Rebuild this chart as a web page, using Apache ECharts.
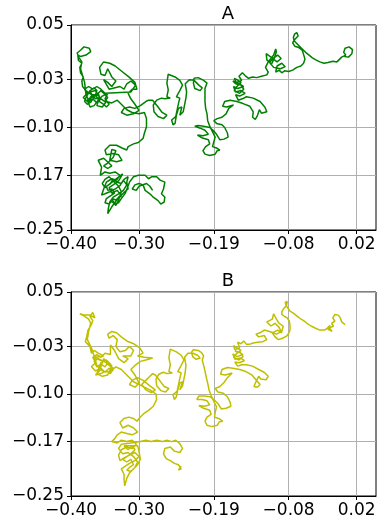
<!DOCTYPE html>
<html lang="en">
<head>
<meta charset="UTF-8">
<title>walks</title>
<script src="https://cdn.jsdelivr.net/npm/echarts@6/dist/echarts.min.js"></script>
<style>
  html, body { margin: 0; padding: 0; background: #fff; }
  #main { width: 385px; height: 519px; }
</style>
</head>
<body>
<div id="main"></div>
<script>
var titles = ['A', 'B'];
var xTicks = [-0.40, -0.30, -0.19, -0.08, 0.02];
var xTickLabels = ['\u22120.40', '\u22120.30', '\u22120.19', '\u22120.08', '0.02'];
var yTicks = [0.05, -0.03, -0.10, -0.17, -0.25];
var yTickLabels = ['0.05', '\u22120.03', '\u22120.10', '\u22120.17', '\u22120.25'];

// path A
var walkA = [
  [0.002,0.004],[0.008,0.003],[0.013,0.008],[0.014,0.014],[0.009,0.018],[0.003,0.016],[0.001,0.010],[0.004,0.006],[-0.002,0.003],[-0.006,-0.001],[-0.009,-0.004],
  [-0.015,-0.003],[-0.022,-0.005],[-0.028,-0.006],[-0.034,-0.004],[-0.040,-0.001],[-0.045,0.002],[-0.050,0.006],[-0.055,0.010],[-0.060,0.015],[-0.064,0.019],[-0.068,0.023],[-0.072,0.027],[-0.073,0.032],[-0.071,0.037],[-0.068,0.039],[-0.066,0.034],[-0.070,0.030],[-0.074,0.024],[-0.071,0.019],[-0.065,0.017],[-0.060,0.013],[-0.058,0.007],[-0.056,0.000],[-0.058,-0.006],[-0.062,-0.010],[-0.068,-0.012],[-0.074,-0.016],[-0.080,-0.018],[-0.086,-0.017],[-0.090,-0.020],
  [-0.094,-0.016],[-0.099,-0.019],[-0.097,-0.010],[-0.090,-0.006],[-0.085,-0.011],[-0.092,-0.014],[-0.102,-0.012],[-0.108,-0.005],[-0.103,0.001],[-0.096,0.006],[-0.091,0.001],[-0.097,-0.004],[-0.106,0.003],[-0.113,0.008],[-0.112,-0.001],[-0.105,-0.007],[-0.100,0.004],[-0.098,0.011],[-0.099,0.015],[-0.102,0.006],[-0.110,-0.004],[-0.114,-0.012],[-0.110,-0.019],[-0.112,-0.023],
  [-0.120,-0.025],[-0.127,-0.027],[-0.133,-0.026],[-0.139,-0.028],
  [-0.144,-0.024],[-0.148,-0.020],[-0.153,-0.025],[-0.149,-0.031],[-0.157,-0.034],[-0.160,-0.028],[-0.156,-0.030],[-0.150,-0.034],[-0.156,-0.040],[-0.160,-0.046],[-0.152,-0.050],[-0.146,-0.044],[-0.150,-0.038],[-0.158,-0.036],[-0.162,-0.032],[-0.152,-0.036],[-0.146,-0.040],[-0.155,-0.043],[-0.161,-0.040],[-0.158,-0.048],[-0.150,-0.046],[-0.144,-0.050],[-0.152,-0.054],[-0.158,-0.052],[-0.154,-0.060],[-0.148,-0.058],
  [-0.142,-0.055],[-0.132,-0.057],[-0.122,-0.062],[-0.115,-0.070],[-0.112,-0.077],[-0.120,-0.079],[-0.123,-0.074],[-0.126,-0.083],[-0.129,-0.088],[-0.133,-0.085],[-0.132,-0.077],[-0.137,-0.069],[-0.147,-0.065],[-0.156,-0.062],[-0.166,-0.060],[-0.174,-0.062],[-0.177,-0.069],[-0.171,-0.070],[-0.161,-0.067],
  [-0.168,-0.072],[-0.172,-0.080],[-0.178,-0.085],[-0.185,-0.087],[-0.190,-0.090],[-0.186,-0.094],[-0.178,-0.096],[-0.174,-0.100],[-0.170,-0.108],[-0.169,-0.114],[-0.175,-0.117],[-0.181,-0.118],[-0.186,-0.110],[-0.191,-0.104],[-0.196,-0.100],[-0.205,-0.098],[-0.213,-0.097],[-0.218,-0.098],[-0.210,-0.101],[-0.203,-0.104],[-0.198,-0.110],[-0.206,-0.112],[-0.214,-0.111],[-0.208,-0.115],[-0.198,-0.118],[-0.196,-0.124],[-0.202,-0.128],[-0.206,-0.134],[-0.203,-0.139],[-0.196,-0.141],[-0.188,-0.139],[-0.185,-0.134],[-0.181,-0.133],[-0.186,-0.130],[-0.192,-0.128],[-0.190,-0.121],[-0.188,-0.114],[-0.192,-0.106],[-0.196,-0.098],[-0.199,-0.090],[-0.200,-0.080],[-0.202,-0.072],[-0.203,-0.062],[-0.203,-0.052],
  [-0.203,-0.043],[-0.200,-0.035],[-0.205,-0.031],[-0.213,-0.027],[-0.219,-0.028],[-0.220,-0.035],[-0.218,-0.043],[-0.210,-0.046],[-0.207,-0.042],[-0.212,-0.038],[-0.219,-0.031],[-0.226,-0.030],[-0.232,-0.036],
  [-0.230,-0.048],[-0.231,-0.057],[-0.233,-0.067],[-0.235,-0.077],[-0.240,-0.082],[-0.237,-0.070],[-0.242,-0.072],[-0.245,-0.082],[-0.247,-0.094],[-0.250,-0.096],[-0.252,-0.089],[-0.246,-0.084],[-0.242,-0.065],[-0.240,-0.057],[-0.245,-0.055],[-0.240,-0.046],[-0.236,-0.038],[-0.240,-0.031],[-0.247,-0.026],[-0.257,-0.022],[-0.258,-0.028],[-0.259,-0.035],[-0.257,-0.045],[-0.259,-0.055],[-0.254,-0.057],[-0.262,-0.058],[-0.267,-0.057],[-0.274,-0.060],[-0.279,-0.067],[-0.278,-0.077],[-0.272,-0.084],[-0.264,-0.087],[-0.259,-0.082],[-0.266,-0.078],[-0.272,-0.070],[-0.280,-0.060],[-0.286,-0.060],
  [-0.290,-0.062],[-0.298,-0.068],[-0.306,-0.072],[-0.314,-0.070],[-0.322,-0.072],[-0.326,-0.078],[-0.318,-0.082],[-0.308,-0.080],[-0.300,-0.075],[-0.306,-0.066],[-0.312,-0.058],[-0.316,-0.050],[-0.310,-0.044],[-0.303,-0.044],[-0.306,-0.034],[-0.315,-0.026],[-0.325,-0.018],[-0.335,-0.010],[-0.343,-0.006],[-0.352,-0.004],[-0.358,-0.012],[-0.356,-0.022],[-0.350,-0.024],[-0.346,-0.014],[-0.340,-0.026],[-0.334,-0.032],[-0.340,-0.040],[-0.346,-0.034],[-0.352,-0.030],[-0.344,-0.044],[-0.328,-0.040],[-0.322,-0.044],[-0.318,-0.036],[-0.312,-0.032],[-0.305,-0.038],[-0.312,-0.048],[-0.350,-0.050],[-0.356,-0.044],[-0.362,-0.040],[-0.368,-0.044],[-0.374,-0.040],[-0.380,-0.044],[-0.376,-0.050],[-0.382,-0.056],[-0.376,-0.062],[-0.368,-0.058],[-0.362,-0.064],[-0.356,-0.058],[-0.350,-0.062],[-0.346,-0.056],[-0.352,-0.050],
  [-0.356,-0.046],[-0.360,-0.050],[-0.358,-0.056],[-0.364,-0.058],[-0.368,-0.052],[-0.372,-0.056],[-0.370,-0.062],[-0.376,-0.066],[-0.380,-0.062],[-0.378,-0.056],[-0.372,-0.046],[-0.366,-0.042],[-0.362,-0.046],[-0.364,-0.052],[-0.358,-0.062],[-0.352,-0.066],[-0.348,-0.070],[-0.344,-0.066],[-0.350,-0.058],[-0.346,-0.050],[-0.354,-0.054],[-0.360,-0.060],[-0.366,-0.068],[-0.372,-0.070],[-0.376,-0.060],[-0.370,-0.056],
  [-0.360,-0.052],[-0.370,-0.052],[-0.378,-0.046],[-0.383,-0.040],[-0.384,-0.032],[-0.382,-0.026],[-0.386,-0.020],[-0.387,-0.012],[-0.384,-0.006],[-0.389,-0.002],[-0.390,0.006],[-0.386,0.004],[-0.378,0.006],[-0.371,0.011],[-0.373,0.016],[-0.381,0.018],[-0.386,0.013],[-0.391,0.009],[-0.388,0.002],[-0.384,-0.004],[-0.386,-0.014],[-0.383,-0.024],[-0.380,-0.034],[-0.378,-0.052],[-0.372,-0.064],[-0.366,-0.056],[-0.372,-0.048],[-0.364,-0.046],[-0.358,-0.056],[-0.362,-0.068],[-0.354,-0.070],[-0.348,-0.062],[-0.340,-0.064],[-0.332,-0.060],[-0.326,-0.066],[-0.318,-0.074],[-0.310,-0.078],[-0.300,-0.080],[-0.292,-0.078],
  [-0.289,-0.087],[-0.289,-0.099],[-0.292,-0.108],[-0.294,-0.116],[-0.301,-0.122],[-0.308,-0.124],[-0.316,-0.128],[-0.318,-0.133],
  [-0.325,-0.130],[-0.333,-0.126],[-0.343,-0.126],[-0.350,-0.133],[-0.348,-0.140],[-0.338,-0.138],[-0.330,-0.140],[-0.325,-0.148],[-0.333,-0.150],[-0.343,-0.148],[-0.340,-0.132],[-0.334,-0.134],[-0.338,-0.144],[-0.346,-0.152],[-0.352,-0.156],[-0.346,-0.160],[-0.340,-0.156],[-0.352,-0.145],[-0.360,-0.148],[-0.355,-0.158],[-0.357,-0.170],[-0.350,-0.165],[-0.343,-0.167],[-0.335,-0.165],[-0.328,-0.170],[-0.333,-0.177],[-0.340,-0.175],[-0.348,-0.180],[-0.352,-0.190],[-0.355,-0.199],[-0.350,-0.197],[-0.343,-0.194],[-0.335,-0.190],[-0.328,-0.185],[-0.323,-0.177],[-0.318,-0.184],[-0.323,-0.192],[-0.330,-0.197],[-0.338,-0.202],[-0.343,-0.209],[-0.345,-0.218],[-0.346,-0.226],[-0.340,-0.216],[-0.335,-0.209],[-0.330,-0.202],[-0.325,-0.198],[-0.321,-0.194],[-0.316,-0.190],[-0.318,-0.180],[-0.316,-0.172],
  [-0.322,-0.176],[-0.326,-0.182],[-0.332,-0.180],[-0.338,-0.176],[-0.342,-0.182],[-0.348,-0.186],[-0.346,-0.192],[-0.340,-0.190],[-0.336,-0.196],[-0.342,-0.200],[-0.348,-0.204],[-0.350,-0.210],[-0.344,-0.212],[-0.340,-0.208],[-0.334,-0.214],[-0.330,-0.206],[-0.326,-0.194],[-0.330,-0.186],[-0.336,-0.180],[-0.344,-0.172],[-0.350,-0.176],[-0.354,-0.182],[-0.350,-0.188],
  [-0.324,-0.168],[-0.330,-0.178],[-0.338,-0.184],[-0.344,-0.188],[-0.340,-0.196],[-0.332,-0.192],[-0.326,-0.200],[-0.334,-0.206],[-0.340,-0.204],[-0.336,-0.212],[-0.330,-0.210],[-0.326,-0.204],[-0.320,-0.196],[-0.314,-0.180],[-0.308,-0.172],[-0.301,-0.170],[-0.291,-0.170],[-0.286,-0.175],[-0.281,-0.172],[-0.274,-0.172],[-0.269,-0.177],[-0.262,-0.180],[-0.264,-0.190],[-0.267,-0.197],[-0.262,-0.202],[-0.263,-0.209],[-0.268,-0.212],[-0.272,-0.207],[-0.279,-0.202],[-0.284,-0.197],[-0.291,-0.192],[-0.294,-0.184],[-0.300,-0.182],[-0.306,-0.184],[-0.310,-0.190],[-0.304,-0.192],[-0.300,-0.186],[-0.289,-0.182],[-0.284,-0.186],[-0.280,-0.192]
];

// path B
var walkB = [
  [0.003,0.002],[-0.002,0.006],[-0.004,0.012],[-0.007,0.016],[-0.012,0.017],[-0.015,0.012],[-0.012,0.007],[-0.017,0.004],[-0.014,0.000],[-0.020,-0.003],[-0.016,-0.008],[-0.022,-0.005],[-0.019,0.001],[-0.024,-0.004],
  [-0.027,-0.006],[-0.034,-0.006],[-0.041,-0.003],[-0.047,0.000],[-0.053,0.004],[-0.058,0.008],[-0.063,0.011],[-0.068,0.015],[-0.073,0.019],[-0.078,0.022],[-0.081,0.026],[-0.084,0.031],[-0.085,0.035],[-0.082,0.036],[-0.083,0.030],[-0.087,0.026],[-0.090,0.021],[-0.090,0.017],[-0.086,0.014],[-0.082,0.012],[-0.079,0.007],[-0.078,0.001],[-0.078,-0.006],[-0.080,-0.011],[-0.083,-0.015],[-0.089,-0.018],[-0.095,-0.020],
  [-0.100,-0.016],[-0.104,-0.010],[-0.096,-0.006],[-0.090,-0.010],[-0.094,-0.002],[-0.100,0.004],[-0.106,0.000],[-0.112,0.006],[-0.104,0.010],[-0.102,0.018],[-0.098,0.010],[-0.094,0.004],[-0.088,0.000],[-0.090,-0.008],[-0.098,-0.012],[-0.108,-0.008],[-0.116,-0.006],[-0.122,-0.010],[-0.128,-0.012],[-0.124,-0.016],[-0.116,-0.014],[-0.112,-0.020],[-0.118,-0.023],[-0.126,-0.024],
  [-0.132,-0.025],[-0.138,-0.027],[-0.142,-0.027],
  [-0.146,-0.022],[-0.150,-0.026],[-0.155,-0.024],[-0.152,-0.032],[-0.159,-0.035],[-0.161,-0.029],[-0.156,-0.032],[-0.150,-0.036],[-0.157,-0.041],[-0.161,-0.046],[-0.153,-0.050],[-0.147,-0.045],[-0.151,-0.039],[-0.159,-0.037],[-0.154,-0.038],[-0.147,-0.042],[-0.156,-0.045],[-0.162,-0.041],[-0.159,-0.049],[-0.151,-0.047],[-0.145,-0.051],[-0.153,-0.054],[-0.159,-0.053],[-0.155,-0.059],[-0.149,-0.057],
  [-0.142,-0.057],[-0.133,-0.059],[-0.124,-0.064],[-0.116,-0.068],[-0.110,-0.074],[-0.113,-0.079],[-0.121,-0.078],[-0.124,-0.074],[-0.128,-0.082],[-0.131,-0.089],[-0.126,-0.090],[-0.122,-0.086],[-0.128,-0.079],[-0.134,-0.072],[-0.143,-0.067],[-0.152,-0.064],[-0.162,-0.062],[-0.170,-0.061],[-0.178,-0.064],[-0.180,-0.071],[-0.173,-0.072],[-0.163,-0.069],
  [-0.170,-0.076],[-0.175,-0.083],[-0.181,-0.089],[-0.188,-0.092],[-0.184,-0.097],[-0.176,-0.099],[-0.170,-0.104],[-0.166,-0.112],[-0.165,-0.118],[-0.172,-0.121],[-0.179,-0.122],[-0.184,-0.114],[-0.190,-0.108],[-0.196,-0.104],[-0.204,-0.103],[-0.212,-0.103],[-0.215,-0.108],[-0.207,-0.108],[-0.200,-0.110],[-0.196,-0.116],[-0.204,-0.118],[-0.212,-0.117],[-0.205,-0.121],[-0.196,-0.124],[-0.194,-0.130],[-0.200,-0.134],[-0.203,-0.140],[-0.200,-0.146],[-0.193,-0.148],[-0.185,-0.146],[-0.182,-0.141],[-0.177,-0.140],[-0.183,-0.136],[-0.189,-0.134],[-0.188,-0.127],[-0.186,-0.119],[-0.190,-0.111],[-0.194,-0.102],[-0.197,-0.094],[-0.199,-0.084],[-0.201,-0.076],[-0.203,-0.066],[-0.205,-0.058],
  [-0.207,-0.050],[-0.205,-0.044],[-0.208,-0.039],[-0.213,-0.036],[-0.220,-0.035],[-0.223,-0.039],[-0.221,-0.045],[-0.216,-0.049],[-0.210,-0.047],[-0.214,-0.043],[-0.221,-0.040],[-0.228,-0.040],[-0.233,-0.046],
  [-0.231,-0.058],[-0.232,-0.068],[-0.234,-0.078],[-0.236,-0.088],[-0.240,-0.094],[-0.236,-0.082],[-0.240,-0.084],[-0.243,-0.094],[-0.245,-0.104],[-0.248,-0.108],[-0.250,-0.101],[-0.244,-0.096],[-0.240,-0.077],[-0.238,-0.069],[-0.243,-0.067],[-0.238,-0.058],[-0.234,-0.050],[-0.238,-0.043],[-0.245,-0.038],[-0.254,-0.034],[-0.255,-0.040],[-0.256,-0.047],[-0.254,-0.057],[-0.256,-0.067],[-0.251,-0.069],[-0.259,-0.070],[-0.264,-0.068],[-0.271,-0.071],[-0.275,-0.078],[-0.274,-0.088],[-0.268,-0.095],[-0.261,-0.097],[-0.256,-0.092],[-0.263,-0.089],[-0.269,-0.081],[-0.276,-0.072],[-0.280,-0.070],
  [-0.284,-0.074],[-0.290,-0.080],[-0.296,-0.086],[-0.290,-0.094],[-0.282,-0.098],[-0.276,-0.094],[-0.284,-0.088],[-0.294,-0.080],[-0.302,-0.076],[-0.310,-0.080],[-0.314,-0.086],[-0.306,-0.090],[-0.300,-0.084],[-0.306,-0.072],[-0.312,-0.064],[-0.306,-0.058],[-0.298,-0.052],[-0.290,-0.050],[-0.280,-0.047],[-0.292,-0.046],[-0.302,-0.044],[-0.294,-0.040],[-0.299,-0.032],[-0.308,-0.026],[-0.318,-0.022],[-0.326,-0.016],[-0.333,-0.010],[-0.340,-0.008],[-0.346,-0.012],[-0.344,-0.018],[-0.338,-0.014],[-0.332,-0.020],[-0.334,-0.030],[-0.328,-0.038],[-0.320,-0.036],[-0.314,-0.030],[-0.308,-0.036],[-0.312,-0.044],[-0.324,-0.044],[-0.316,-0.048],[-0.322,-0.054],[-0.330,-0.048],[-0.336,-0.036],[-0.342,-0.028],[-0.342,-0.042],[-0.350,-0.040],
  [-0.356,-0.046],[-0.362,-0.042],[-0.368,-0.046],[-0.364,-0.054],[-0.370,-0.060],[-0.364,-0.066],[-0.356,-0.062],[-0.350,-0.068],[-0.344,-0.062],[-0.338,-0.066],[-0.342,-0.056],[-0.348,-0.050],[-0.356,-0.054],[-0.362,-0.070],[-0.354,-0.074],[-0.346,-0.072],[-0.340,-0.058],
  [-0.360,-0.048],[-0.366,-0.052],[-0.362,-0.060],[-0.356,-0.056],[-0.350,-0.060],[-0.346,-0.054],[-0.352,-0.048],[-0.358,-0.066],[-0.364,-0.072],[-0.356,-0.070],[-0.348,-0.066],[-0.342,-0.070],[-0.338,-0.062],[-0.344,-0.058],[-0.350,-0.052],[-0.358,-0.050],[-0.364,-0.046],
  [-0.352,-0.044],[-0.360,-0.040],[-0.366,-0.036],[-0.370,-0.040],[-0.372,-0.030],[-0.379,-0.023],[-0.377,-0.016],[-0.375,-0.006],[-0.370,0.002],[-0.368,0.008],[-0.372,0.014],[-0.368,0.020],[-0.365,0.012],[-0.372,0.016],[-0.380,0.016],[-0.387,0.018],[-0.381,0.015],[-0.374,0.010],[-0.371,0.004],[-0.374,-0.008],[-0.376,-0.020],[-0.370,-0.032],[-0.366,-0.044],[-0.362,-0.058],[-0.354,-0.066],[-0.344,-0.068],[-0.334,-0.060],[-0.326,-0.064],[-0.318,-0.072],[-0.308,-0.082],[-0.296,-0.088],[-0.284,-0.094],[-0.275,-0.100],
  [-0.274,-0.108],[-0.279,-0.118],[-0.286,-0.124],[-0.292,-0.128],[-0.299,-0.135],[-0.303,-0.140],
  [-0.308,-0.136],[-0.315,-0.134],[-0.322,-0.136],[-0.328,-0.142],[-0.324,-0.150],[-0.316,-0.146],[-0.308,-0.150],[-0.302,-0.156],[-0.310,-0.160],[-0.318,-0.158],[-0.326,-0.156],[-0.332,-0.160],[-0.336,-0.166],[-0.340,-0.170],[-0.332,-0.172],[-0.326,-0.168],[-0.318,-0.170],[-0.310,-0.168],[-0.304,-0.174],[-0.310,-0.180],[-0.318,-0.178],[-0.326,-0.182],[-0.330,-0.190],[-0.328,-0.198],[-0.322,-0.194],[-0.314,-0.190],[-0.306,-0.186],[-0.300,-0.192],[-0.306,-0.198],[-0.314,-0.202],[-0.320,-0.206],[-0.326,-0.210],[-0.322,-0.218],[-0.322,-0.226],[-0.321,-0.235],[-0.318,-0.224],[-0.314,-0.216],[-0.308,-0.210],[-0.302,-0.204],[-0.298,-0.196],[-0.300,-0.184],[-0.302,-0.176],
  [-0.322,-0.176],[-0.316,-0.182],[-0.310,-0.176],[-0.306,-0.182],[-0.312,-0.188],[-0.318,-0.192],[-0.324,-0.196],[-0.318,-0.200],[-0.312,-0.196],[-0.308,-0.204],[-0.314,-0.208],[-0.318,-0.212],[-0.312,-0.214],[-0.306,-0.208],[-0.302,-0.200],[-0.308,-0.192],[-0.316,-0.186],[-0.324,-0.188],[-0.330,-0.180],[-0.326,-0.174],[-0.312,-0.172],[-0.298,-0.170],
  [-0.290,-0.168],[-0.282,-0.170],[-0.274,-0.168],[-0.266,-0.170],[-0.259,-0.168],[-0.252,-0.170],[-0.246,-0.168],[-0.240,-0.173],[-0.236,-0.180],[-0.240,-0.186],[-0.248,-0.184],[-0.254,-0.178],[-0.262,-0.180],[-0.264,-0.188],[-0.260,-0.195],[-0.254,-0.198],[-0.248,-0.202],[-0.242,-0.204],[-0.238,-0.210],[-0.242,-0.212],[-0.238,-0.206]
];

var walks = [walkA, walkB];
var colors = ['#008000', '#bfbf00'];
var gridTops = [25, 292];

function pickLabel(ticks, labels) {
    return function (v) {
        for (var i = 0; i < ticks.length; i++) {
            if (Math.abs(ticks[i] - v) < 1e-6) return labels[i];
        }
        return '';
    };
}

var myChart = echarts.init(document.getElementById('main'), null, { renderer: 'canvas' });

var option = {
    animation: false,
    backgroundColor: '#fff',
    title: [],
    grid: [],
    xAxis: [],
    yAxis: [],
    series: []
};

for (var k = 0; k < 2; k++) {
    option.title.push({
        text: titles[k],
        left: 223,
        top: gridTops[k] - 25,
        textAlign: 'center',
        textStyle: { fontFamily: 'DejaVu Sans', fontSize: 18, fontWeight: 'normal', color: '#000' }
    });
    option.grid.push({
        left: 71, top: gridTops[k], width: 305, height: 205,
        containLabel: false,
        show: true, borderColor: '#000', borderWidth: 1, backgroundColor: 'transparent'
    });
    option.xAxis.push({
        type: 'value', gridIndex: k,
        min: -0.40, max: 0.0485,
        axisLine: { show: true, onZero: false, lineStyle: { color: '#000', width: 1 } },
        axisTick: { show: true, length: 4, customValues: xTicks, lineStyle: { color: '#000' } },
        axisLabel: {
            customValues: xTicks, margin: 6, color: '#000',
            fontFamily: 'DejaVu Sans', fontSize: 17,
            formatter: pickLabel(xTicks, xTickLabels)
        },
        splitLine: { show: true, lineStyle: { color: '#b0b0b0', width: 1 } }
    });
    option.yAxis.push({
        type: 'value', gridIndex: k,
        min: -0.25, max: 0.05,
        axisLine: { show: true, onZero: false, lineStyle: { color: '#000', width: 1 } },
        axisTick: { show: true, length: 4, customValues: yTicks, lineStyle: { color: '#000' } },
        axisLabel: {
            customValues: yTicks, margin: 7, color: '#000',
            fontFamily: 'DejaVu Sans', fontSize: 17,
            formatter: pickLabel(yTicks, yTickLabels)
        },
        splitLine: { show: true, lineStyle: { color: '#b0b0b0', width: 1 } }
    });
    option.series.push({
        type: 'line', xAxisIndex: k, yAxisIndex: k,
        data: walks[k],
        showSymbol: false, symbol: 'none',
        lineStyle: { color: colors[k], width: 1.5 },
        z: 3
    });
}

myChart.setOption(option);
</script>
</body>
</html>
